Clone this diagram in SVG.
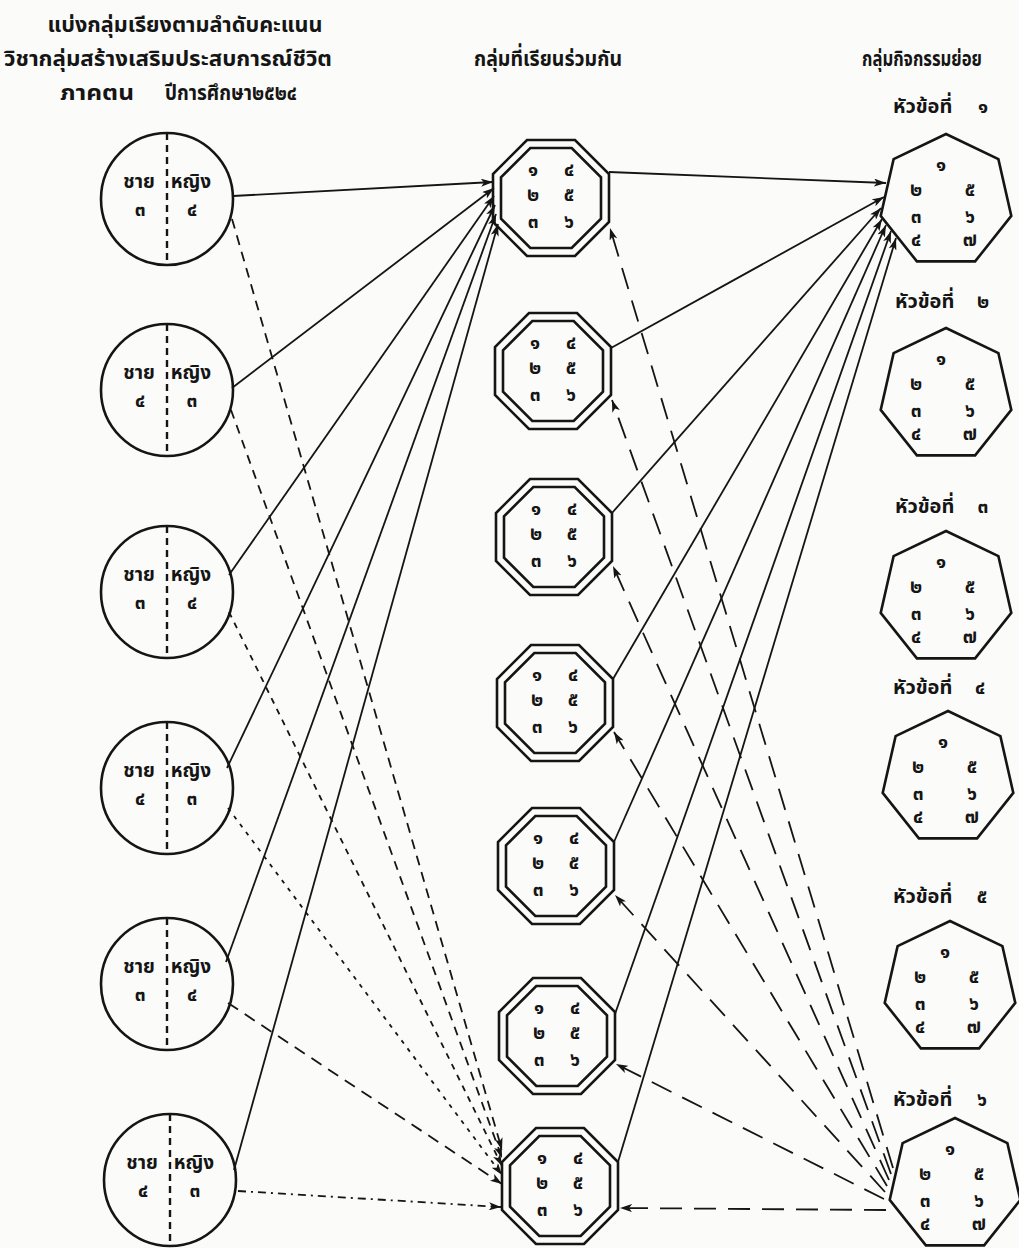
<svg xmlns="http://www.w3.org/2000/svg" width="1019" height="1248" viewBox="0 0 1019 1248">
<style>
.t{font-family:"Noto Sans Thai","Noto Serif Thai","Loma","Garuda","Tlwg Typo","Norasi","DejaVu Sans",sans-serif;fill:#151515;font-weight:bold}
.title{font-size:22px}
.lab{font-size:19px}
.hl{font-size:20px}
.dg{font-size:19px;text-anchor:middle}
.shape{fill:none;stroke:#151515;stroke-width:2.6}
.ln{fill:none;stroke:#151515;stroke-width:1.8}
.vd{fill:none;stroke:#151515;stroke-width:2.4;stroke-dasharray:7 5}
</style>
<defs>
<marker id="arr" viewBox="0 0 12 8" refX="12" refY="4" markerWidth="12" markerHeight="8" orient="auto" markerUnits="userSpaceOnUse"><path d="M0,0 L12,4 L0,8 L3,4 z" fill="#151515"/></marker>
<polygon id="octO" points="-24,-58 24,-58 58,-24 58,24 24,58 -24,58 -58,24 -58,-24"/>
<polygon id="octI" points="-20.7,-50 20.7,-50 50,-20.7 50,20.7 20.7,50 -20.7,50 -50,20.7 -50,-20.7"/>
<polygon id="hep" points="0,-67 52.4,-41.8 65.3,14.9 29.1,60.4 -29.1,60.4 -65.3,14.9 -52.4,-41.8"/>
<g id="octTxt">
<text class="t dg" x="-18" y="-22">๑</text><text class="t dg" x="18" y="-22">๔</text>
<text class="t dg" x="-18" y="3">๒</text><text class="t dg" x="18" y="3">๕</text>
<text class="t dg" x="-18" y="30">๓</text><text class="t dg" x="18" y="30">๖</text>
</g>
<g id="hepTxt">
<text class="t dg" x="-5" y="-30">๑</text>
<text class="t dg" x="-30" y="-5">๒</text><text class="t dg" x="24" y="-5">๕</text>
<text class="t dg" x="-30" y="22">๓</text><text class="t dg" x="24" y="22">๖</text>
<text class="t dg" x="-30" y="45">๔</text><text class="t dg" x="24" y="45">๗</text>
</g>
<g id="circ">
<circle class="shape" r="66"/><line class="vd" x1="0" y1="-66" x2="0" y2="66"/>
<text class="t lab" x="-28" y="-11" text-anchor="middle">ชาย</text><text class="t lab" x="24" y="-11" text-anchor="middle">หญิง</text>
</g>
</defs>
<rect width="1019" height="1248" fill="#fbfbfa"/>

<g id="titles">
<text class="t title" x="185" y="32" text-anchor="middle" textLength="275" lengthAdjust="spacingAndGlyphs">แบ่งกลุ่มเรียงตามลำดับคะแนน</text>
<text class="t title" x="168" y="66" text-anchor="middle" textLength="328" lengthAdjust="spacingAndGlyphs">วิชากลุ่มสร้างเสริมประสบการณ์ชีวิต</text>
<text class="t title" x="60" y="100" textLength="74" lengthAdjust="spacingAndGlyphs">ภาคตน</text>
<text class="t title" x="165" y="100" textLength="132" lengthAdjust="spacingAndGlyphs">ปีการศึกษา๒๕๒๔</text>
<text class="t title" x="548" y="66" text-anchor="middle" textLength="148" lengthAdjust="spacingAndGlyphs">กลุ่มที่เรียนร่วมกัน</text>
<text class="t title" x="922" y="66" text-anchor="middle" textLength="120" lengthAdjust="spacingAndGlyphs">กลุ่มกิจกรรมย่อย</text>
</g>

<g id="connectors">
<line class="ln" x1="233" y1="196" x2="493" y2="182" marker-end="url(#arr)"/>
<line class="ln" x1="232" y1="388" x2="494" y2="188" marker-end="url(#arr)"/>
<line class="ln" x1="229" y1="575" x2="494" y2="196" marker-end="url(#arr)"/>
<line class="ln" x1="227" y1="768" x2="495" y2="205" marker-end="url(#arr)"/>
<line class="ln" x1="226" y1="962" x2="496" y2="214" marker-end="url(#arr)"/>
<line class="ln" x1="234" y1="1170" x2="498" y2="224" marker-end="url(#arr)"/>
<line class="ln" x1="232" y1="219" x2="502" y2="1150" stroke-dasharray="10 7" marker-end="url(#arr)"/>
<line class="ln" x1="231" y1="410" x2="502" y2="1158" stroke-dasharray="9 7" marker-end="url(#arr)"/>
<line class="ln" x1="229" y1="612" x2="502" y2="1166" stroke-dasharray="6 6" marker-end="url(#arr)"/>
<line class="ln" x1="228" y1="808" x2="502" y2="1175" stroke-dasharray="4 6" marker-end="url(#arr)"/>
<line class="ln" x1="228" y1="1003" x2="502" y2="1184" stroke-dasharray="12 8" marker-end="url(#arr)"/>
<line class="ln" x1="238" y1="1191" x2="501" y2="1207" stroke-dasharray="8 5 2 5" marker-end="url(#arr)"/>
<line class="ln" x1="609" y1="172" x2="886" y2="183" marker-end="url(#arr)"/>
<line class="ln" x1="611" y1="348" x2="884" y2="197" marker-end="url(#arr)"/>
<line class="ln" x1="612" y1="513" x2="881" y2="208" marker-end="url(#arr)"/>
<line class="ln" x1="613" y1="679" x2="882" y2="219" marker-end="url(#arr)"/>
<line class="ln" x1="614" y1="842" x2="886" y2="225" marker-end="url(#arr)"/>
<line class="ln" x1="615" y1="1014" x2="891" y2="231" marker-end="url(#arr)"/>
<line class="ln" x1="618" y1="1162" x2="896" y2="238" marker-end="url(#arr)"/>
<line class="ln" x1="893" y1="1168" x2="610" y2="228" stroke-dasharray="22 12" marker-end="url(#arr)"/>
<line class="ln" x1="891" y1="1174" x2="612" y2="400" stroke-dasharray="22 12" marker-end="url(#arr)"/>
<line class="ln" x1="889" y1="1180" x2="613" y2="566" stroke-dasharray="22 12" marker-end="url(#arr)"/>
<line class="ln" x1="887" y1="1186" x2="614" y2="732" stroke-dasharray="22 12" marker-end="url(#arr)"/>
<line class="ln" x1="885" y1="1192" x2="615" y2="895" stroke-dasharray="22 12" marker-end="url(#arr)"/>
<line class="ln" x1="884" y1="1199" x2="616" y2="1064" stroke-dasharray="22 12" marker-end="url(#arr)"/>
<line class="ln" x1="886" y1="1210" x2="620" y2="1208" stroke-dasharray="22 12" marker-end="url(#arr)"/>
</g>

<g id="class1" transform="translate(167,199)"><use href="#circ"/>
<text class="t dg" x="-27" y="17">๓</text><text class="t dg" x="25" y="17">๔</text></g>
<g id="class2" transform="translate(167,390)"><use href="#circ"/>
<text class="t dg" x="-27" y="17">๔</text><text class="t dg" x="25" y="17">๓</text></g>
<g id="class3" transform="translate(167,592)"><use href="#circ"/>
<text class="t dg" x="-27" y="17">๓</text><text class="t dg" x="25" y="17">๔</text></g>
<g id="class4" transform="translate(167,788)"><use href="#circ"/>
<text class="t dg" x="-27" y="17">๔</text><text class="t dg" x="25" y="17">๓</text></g>
<g id="class5" transform="translate(167,984)"><use href="#circ"/>
<text class="t dg" x="-27" y="17">๓</text><text class="t dg" x="25" y="17">๔</text></g>
<g id="class6" transform="translate(170,1180)"><use href="#circ"/>
<text class="t dg" x="-27" y="17">๔</text><text class="t dg" x="25" y="17">๓</text></g>

<g id="group1" transform="translate(551,198)"><use href="#octO" class="shape"/><use href="#octI" class="shape"/><use href="#octTxt"/></g>
<g id="group2" transform="translate(553,371)"><use href="#octO" class="shape"/><use href="#octI" class="shape"/><use href="#octTxt"/></g>
<g id="group3" transform="translate(554,537)"><use href="#octO" class="shape"/><use href="#octI" class="shape"/><use href="#octTxt"/></g>
<g id="group4" transform="translate(555,703)"><use href="#octO" class="shape"/><use href="#octI" class="shape"/><use href="#octTxt"/></g>
<g id="group5" transform="translate(556,866)"><use href="#octO" class="shape"/><use href="#octI" class="shape"/><use href="#octTxt"/></g>
<g id="group6" transform="translate(557,1036)"><use href="#octO" class="shape"/><use href="#octI" class="shape"/><use href="#octTxt"/></g>
<g id="group7" transform="translate(560,1186)"><use href="#octO" class="shape"/><use href="#octI" class="shape"/><use href="#octTxt"/></g>

<g id="topic1"><text class="t hl" x="893" y="113">หัวข้อที่</text><text class="t dg" x="983" y="113">๑</text>
<g transform="translate(946,201)"><use href="#hep" class="shape"/><use href="#hepTxt"/></g></g>
<g id="topic2"><text class="t hl" x="895" y="308">หัวข้อที่</text><text class="t dg" x="983" y="308">๒</text>
<g transform="translate(946,395)"><use href="#hep" class="shape"/><use href="#hepTxt"/></g></g>
<g id="topic3"><text class="t hl" x="895" y="513">หัวข้อที่</text><text class="t dg" x="983" y="513">๓</text>
<g transform="translate(946,598)"><use href="#hep" class="shape"/><use href="#hepTxt"/></g></g>
<g id="topic4"><text class="t hl" x="893" y="694">หัวข้อที่</text><text class="t dg" x="980" y="694">๔</text>
<g transform="translate(948,778)"><use href="#hep" class="shape"/><use href="#hepTxt"/></g></g>
<g id="topic5"><text class="t hl" x="893" y="903">หัวข้อที่</text><text class="t dg" x="982" y="903">๕</text>
<g transform="translate(950,988)"><use href="#hep" class="shape"/><use href="#hepTxt"/></g></g>
<g id="topic6"><text class="t hl" x="893" y="1106">หัวข้อที่</text><text class="t dg" x="982" y="1106">๖</text>
<g transform="translate(955,1185)"><use href="#hep" class="shape"/><use href="#hepTxt"/></g></g>
</svg>
